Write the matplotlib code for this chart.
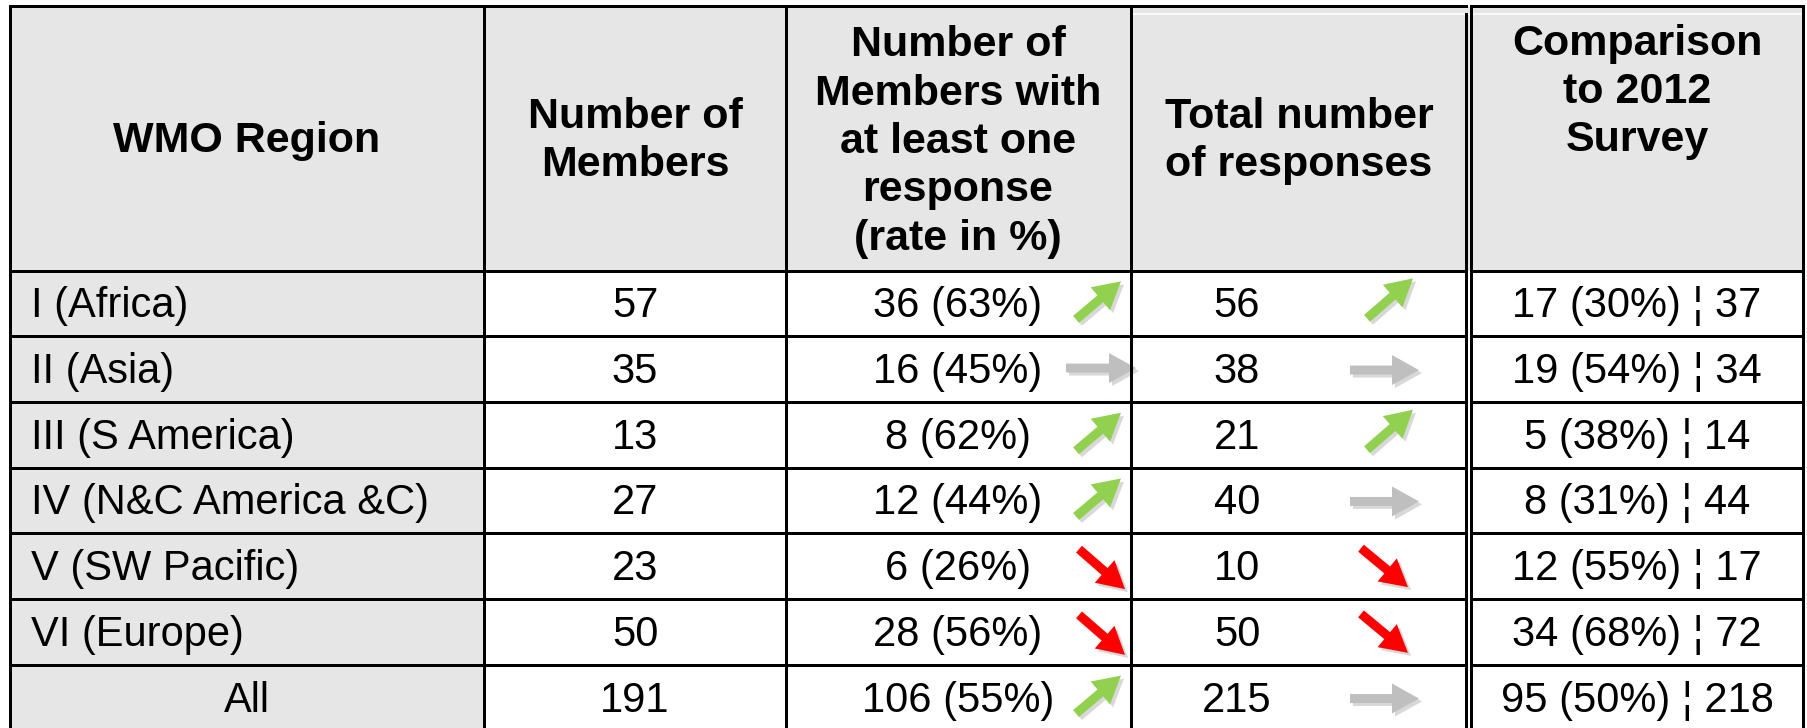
import matplotlib.pyplot as plt
from matplotlib.patches import Rectangle, FancyArrow

plt.rcParams['font.family'] = ['Liberation Sans', 'DejaVu Sans']

# table contents
headers = ["WMO Region", "Number of\nMembers",
           "Number of\nMembers with\nat least one\nresponse\n(rate in %)",
           "Total number\nof responses", "Comparison\nto 2012\nSurvey"]
regions = ["I (Africa)", "II (Asia)", "III (S America)", "IV (N&C America &C)",
           "V (SW Pacific)", "VI (Europe)", "All"]
members = [57, 35, 13, 27, 23, 50, 191]
responding = [36, 16, 8, 12, 6, 28, 106]
rate = [63, 45, 62, 44, 26, 56, 55]
total = [56, 38, 21, 40, 10, 50, 215]
prev_members = [17, 19, 5, 8, 12, 34, 95]
prev_rate = [30, 54, 38, 31, 55, 68, 50]
prev_total = [37, 34, 14, 44, 17, 72, 218]
trend_members = ["up", "flat", "up", "up", "down", "down", "up"]
trend_total = ["up", "flat", "up", "flat", "down", "down", "flat"]

# layout in pixels
W, H = 1808, 728
col_x = [10.5, 484, 786.5, 1131.5, 1466.5, 1471.5, 1803.5]
top = 6
head_bot = 270.5
row_h = 65.7
lw = 3 * 72 / 100

fig = plt.figure(figsize=(W / 100, H / 100), dpi=100)
ax = fig.add_axes([0, 0, 1, 1])
ax.set_xlim(0, W)
ax.set_ylim(H, 0)
ax.axis('off')

gray = '#E6E6E6'
n = len(regions)
bottom = head_bot + n * row_h

# cell fills
ax.add_patch(Rectangle((col_x[0], top), col_x[-1] - col_x[0], head_bot - top, color=gray, lw=0))
ax.add_patch(Rectangle((col_x[0], head_bot), col_x[1] - col_x[0], bottom - head_bot, color=gray, lw=0))
ax.plot([1133, 1801], [14, 14], color='white', lw=1.2)

# grid lines
for x in col_x:
    y0 = 14 if x == col_x[4] else top
    ax.plot([x, x], [y0, bottom], color='black', lw=lw, solid_capstyle='projecting')
ys = [top, head_bot] + [head_bot + (i + 1) * row_h for i in range(n)]
for y in ys:
    ax.plot([col_x[0], col_x[4]], [y, y], color='black', lw=lw, solid_capstyle='projecting')
    ax.plot([col_x[5], col_x[6]], [y, y], color='black', lw=lw, solid_capstyle='projecting')

# header text
hfont = dict(fontsize=31, fontweight='bold', ha='center', va='center', linespacing=1.27)
ax.text(247, 141, headers[0], **hfont)
ax.text(635, 141, headers[1], **hfont)
ax.text(958, 142, headers[2], **hfont)
ax.text(1299, 141, headers[3], **hfont)
ax.text(1637, 92, headers[4], **hfont)

# arrows: (tail x, tail dy, tip x, tip dy) relative to row centre
arrow_geom = {
    3: {"up": (1076, 16, 1121, -22), "flat": (1066, -1, 1136, -1), "down": (1079, -17, 1125, 23)},
    4: {"up": (1367, 15, 1413, -25), "flat": (1350, 1, 1419, 1), "down": (1361, -18, 1408, 21)},
}
arrow_col = {"up": '#92D050', "flat": '#BFBFBF', "down": '#FF0000'}


def draw_arrow(col, trend, cy):
    x0, dy0, x1, dy1 = arrow_geom[col][trend]
    y0, y1 = cy + dy0, cy + dy1
    kw = dict(width=9, head_width=30, head_length=27, length_includes_head=True, lw=0)
    ax.add_patch(FancyArrow(x0 + 3, y0 + 3, x1 - x0, y1 - y0, color='#808080', alpha=0.3, **kw))
    ax.add_patch(FancyArrow(x0, y0, x1 - x0, y1 - y0, color=arrow_col[trend], **kw))


bfont = dict(fontsize=30, va='center')
for i in range(n):
    cy = head_bot + (i + 0.5) * row_h
    ty = cy + 3
    if regions[i] == "All":
        ax.text(247, ty, regions[i], ha='center', **bfont)
    else:
        ax.text(31, ty, regions[i], ha='left', **bfont)
    ax.text(635, ty, str(members[i]), ha='center', **bfont)
    ax.text(958, ty, f"{responding[i]} ({rate[i]}%)", ha='center', **bfont)
    ax.text(1237, ty, str(total[i]), ha='center', **bfont)
    ax.text(1637, ty, f"{prev_members[i]} ({prev_rate[i]}%) \u00a6 {prev_total[i]}", ha='center', **bfont)
    draw_arrow(3, trend_members[i], cy)
    draw_arrow(4, trend_total[i], cy)

fig.savefig('out.png', dpi=100)
